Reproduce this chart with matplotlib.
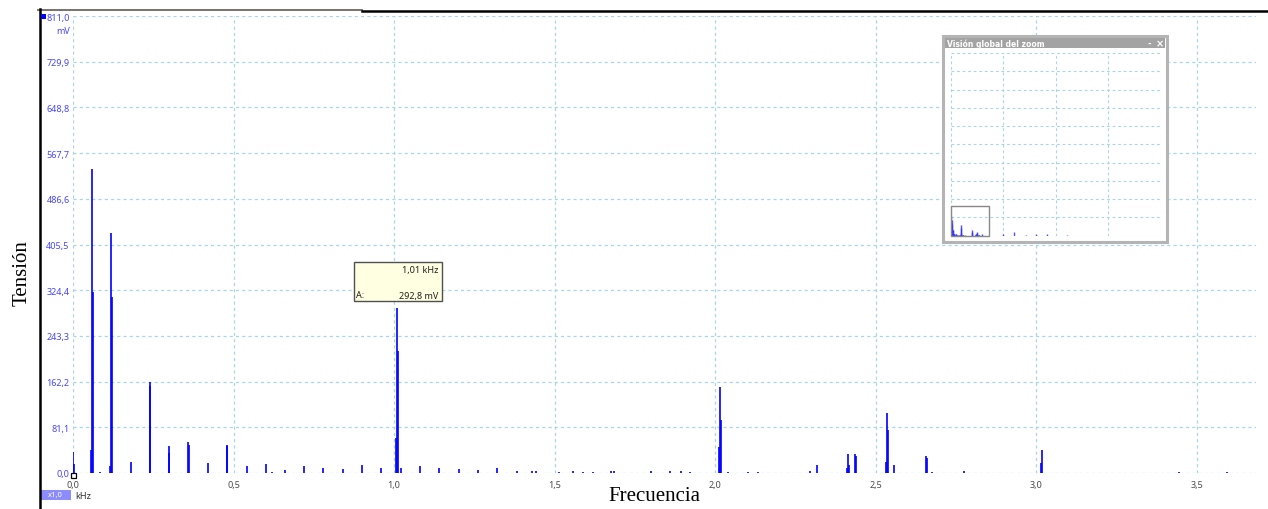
import matplotlib
matplotlib.use('Agg')
import matplotlib.pyplot as plt
from matplotlib.patches import Rectangle
from matplotlib.lines import Line2D

# Spectrum peaks: frequency (kHz) and amplitude (mV)
freq_khz = [0.000, 0.003, 0.056, 0.059, 0.062, 0.084, 0.115, 0.118, 0.121,
            0.180, 0.239, 0.241, 0.298, 0.300, 0.358, 0.360, 0.421, 0.479,
            0.481, 0.542, 0.601, 0.620, 0.660, 0.720, 0.779, 0.841, 0.900,
            0.960, 1.007, 1.010, 1.013, 1.022, 1.081, 1.140, 1.202, 1.262,
            1.321, 1.383, 1.430, 1.442, 1.514, 1.558, 1.589, 1.620, 1.676,
            1.685, 1.801, 1.860, 1.894, 1.922, 2.013, 2.016, 2.019, 2.040,
            2.103, 2.134, 2.296, 2.318, 2.411, 2.414, 2.417, 2.436, 2.439,
            2.533, 2.536, 2.539, 2.558, 2.657, 2.660, 2.676, 2.776, 3.016,
            3.019, 3.445, 3.595, 5.02, 6.03, 7.14, 8.10, 9.14, 11.05]
amp_mv = [37, 16, 40, 540, 321, 2, 12, 426, 312,
          20, 162, 154, 48, 35, 55, 50, 18, 50,
          48, 12, 16, 2, 5, 12, 9, 7, 14,
          9, 62, 292.8, 216, 9, 12, 9, 7, 5,
          9, 4, 4, 3, 2, 3, 2, 2, 4,
          3, 4, 4, 3, 2, 46, 153, 94, 2,
          2, 1.5, 4, 14, 9, 34, 14, 34, 30,
          20, 106, 76, 14, 30, 27, 1.5, 4, 18,
          41, 1.5, 1.5, 40, 90, 30, 40, 60, 30]

x_ticks = [0.0, 0.5, 1.0, 1.5, 2.0, 2.5, 3.0, 3.5]
x_labels = ['0,0', '0,5', '1,0', '1,5', '2,0', '2,5', '3,0', '3,5']
y_ticks = [0.0, 81.1, 162.2, 243.3, 324.4, 405.5, 486.6, 567.7, 648.8, 729.9, 811.0]
y_labels = ['0,0', '81,1', '162,2', '243,3', '324,4', '405,5', '486,6',
            '567,7', '648,8', '729,9', '811,0']

cursor_freq = 1.01
cursor_amp = 292.8

W, H = 1268, 510
GRID = '#a9d6e6'
TRACE = '#0000ff'


def fx(x):
    return x / W


def fy(y):
    return 1 - y / H


def px_axes(x0, y0, x1, y1):
    return [fx(x0), fy(y1), (x1 - x0) / W, (y1 - y0) / H]


fig = plt.figure(figsize=(W / 100, H / 100), dpi=100, facecolor='white')

# main spectrum view
ax = fig.add_axes(px_axes(73, 17, 1256, 474))
ax.set_xlim(0, (1256 - 73) / 321)
ax.set_ylim(0, 811.0)
for s in ax.spines.values():
    s.set_visible(False)
for t in y_ticks:
    ax.axhline(t, color=GRID, lw=0.9, ls=(0, (2.5, 2.5)), zorder=0)
for t in x_ticks:
    ax.axvline(t, color=GRID, lw=0.9, ls=(0, (2.5, 2.5)), zorder=0)
ax.vlines(freq_khz, 0, amp_mv, color=TRACE, lw=1.2, zorder=2)

ax.set_yticks(y_ticks)
ax.set_yticklabels(y_labels)
ax.set_xticks(x_ticks)
ax.set_xticklabels(x_labels)
ax.tick_params(axis='y', length=0, pad=2.5, labelsize=6.5, labelcolor='#4646ff')
ax.tick_params(axis='x', length=0, pad=5, labelsize=6.5, labelcolor='#4a4a4a')
for lab in ax.get_yticklabels() + ax.get_xticklabels():
    lab.set_family('Noto Sans')

fig.text(fx(70), fy(31), 'mV', ha='right', va='center', fontsize=6.5,
         color='#4646ff', family='Noto Sans')
fig.text(fx(75), fy(497), 'kHz', ha='left', va='center', fontsize=6.5,
         color='#303030', family='Noto Sans')

# zoom factor badge and origin marker
fig.patches.append(Rectangle((fx(40), fy(501)), 31 / W, 10 / H, transform=fig.transFigure,
                             facecolor='#8c8cff', edgecolor='none'))
fig.text(fx(55.5), fy(496), 'x1,0', ha='center', va='center', fontsize=5.5,
         color='white', family='Noto Sans')
fig.patches.append(Rectangle((fx(71), fy(479)), 5 / W, 5 / H, transform=fig.transFigure,
                             facecolor='white', edgecolor='black', lw=0.9, zorder=5))
fig.patches.append(Rectangle((fx(41), fy(20)), 5 / W, 5 / H, transform=fig.transFigure,
                             facecolor='#0000ff', edgecolor='none', zorder=5))

# window frame
fig.lines.append(Line2D([fx(38), fx(362)], [fy(10.5), fy(10.5)], transform=fig.transFigure,
                        color='#6e665e', lw=1.3))
fig.lines.append(Line2D([fx(362), fx(1268)], [fy(11.5), fy(11.5)], transform=fig.transFigure,
                        color='black', lw=1.8))
fig.lines.append(Line2D([fx(39.5), fx(39.5)], [fy(10), fy(510)], transform=fig.transFigure,
                        color='black', lw=1.8))

# cursor readout
fig.patches.append(Rectangle((fx(354), fy(302)), 88 / W, 39 / H, transform=fig.transFigure,
                             facecolor='#ffffe1', edgecolor='#505050', lw=1, zorder=6))
fig.text(fx(438), fy(271), f'{cursor_freq:.2f} kHz'.replace('.', ','), ha='right', va='center',
         fontsize=6.5, color='#202020', family='Noto Sans', zorder=7)
fig.text(fx(356), fy(296), 'A:', ha='left', va='center',
         fontsize=6.5, color='#202020', family='Noto Sans', zorder=7)
fig.text(fx(438), fy(296), f'{cursor_amp:.1f} mV'.replace('.', ','), ha='right', va='center',
         fontsize=6.5, color='#202020', family='Noto Sans', zorder=7)

# zoom overview window
fig.patches.append(Rectangle((fx(943), fy(243)), 224 / W, 206 / H, transform=fig.transFigure,
                             facecolor='white', edgecolor='#b4b4b4', lw=2.2, zorder=6))
fig.patches.append(Rectangle((fx(945), fy(49)), 220 / W, 10 / H, transform=fig.transFigure,
                             facecolor='#a3a3a3', edgecolor='none', zorder=7))
fig.text(fx(947), fy(44), 'Visión global del zoom', ha='left', va='center', fontsize=5.5,
         color='white', weight='bold', family='DejaVu Sans', zorder=8)
fig.text(fx(1149), fy(44), '-', ha='center', va='center', fontsize=6,
         color='white', weight='bold', zorder=8)
fig.text(fx(1160), fy(44), '×', ha='center', va='center', fontsize=7,
         color='white', weight='bold', zorder=8)

inset = fig.add_axes(px_axes(950.7, 54, 1160.7, 236.7), zorder=9)
inset.set_facecolor('white')
inset.set_xlim(0, 20)
inset.set_ylim(0, 5000)
inset.axis('off')
for t in range(0, 5001, 500):
    inset.axhline(t, color=GRID, lw=0.8, ls=(0, (2.5, 2.5)), zorder=0)
for t in range(0, 21, 5):
    inset.axvline(t, color=GRID, lw=0.8, ls=(0, (2.5, 2.5)), zorder=0)
inset.vlines(freq_khz, 0, amp_mv, color='#3030ff', lw=1.0, alpha=0.85, zorder=2)
inset.add_patch(Rectangle((0, 0), (1256 - 73) / 321, 811.0, facecolor='none',
                          edgecolor='#888888', lw=1.0, zorder=3, clip_on=False))

# axis titles
fig.text(fx(654), fy(497), 'Frecuencia', ha='center', va='center', fontsize=15,
         family='Liberation Serif', color='black')
fig.text(fx(22), fy(273), 'Tensión', ha='center', va='center', fontsize=15, rotation=90,
         family='Liberation Serif', color='black')

fig.savefig('out.png', dpi=100, facecolor='white')
